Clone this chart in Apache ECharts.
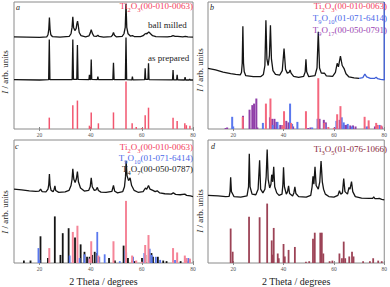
<!DOCTYPE html>
<html><head><meta charset="utf-8">
<script src="https://cdn.jsdelivr.net/npm/echarts@6/dist/echarts.min.js"></script>
<style>html,body{margin:0;padding:0;background:#fff}#c{width:390px;height:287px}</style>
</head><body><div id="c"></div>
<script>
// ---------- DATA (2 Theta in degrees, intensity in arb. units) ----------
const xTicks = [20, 40, 60, 80];

// reference stick patterns: [2theta, relative intensity]
const ti2o3Sticks = [[23.8,24],[33.0,50],[34.8,60],[39.5,7],[40.2,35],[43.0,12],[48.9,35],[53.8,100],[56.2,12],[57.8,4],[60.0,2],[61.3,29],[62.6,45],[72.2,24],[73.8,17],[76.8,12],[77.4,8],[78.8,7]];
const t9o10Sticks = [[19.6,24],[20.0,5],[31.8,12],[35.7,8],[37.6,14],[39.4,7],[42.6,50],[43.4,10],[45.5,14],[51.4,3],[53.6,20],[56.6,10],[61.0,16],[63.1,23],[63.9,13],[65.5,10],[67.2,5],[73.0,5],[78.2,8]];
const t9o17Sticks = [[17.0,2],[17.6,3],[23.9,26],[26.5,38],[27.6,47],[28.3,50],[29.2,60],[29.6,3],[34.6,23],[35.5,20],[36.4,20],[37.2,14],[38.7,8],[39.3,7],[41.1,16],[42.0,13],[43.8,5],[49.8,2],[50.7,3],[53.6,20],[54.3,20],[56.0,18],[56.8,13],[60.3,3],[62.3,18],[63.9,8],[64.8,8],[66.5,7],[67.6,7],[68.6,5],[73.7,5],[76.3,5],[79.0,5]];
const t4o7Sticks = [[13.9,4],[16.5,4],[20.4,43],[23.3,8],[26.0,75],[28.2,13],[29.1,48],[31.4,56],[33.9,41],[36.1,30],[37.6,18],[38.6,10],[39.6,10],[40.6,13],[41.6,18],[42.5,16],[43.3,8],[47.2,8],[49.5,4],[52.9,28],[53.9,17],[54.6,8],[56.3,4],[57.2,3],[60.1,8],[61.4,13],[63.8,16],[64.4,10],[66.3,10],[68.4,4],[69.7,3],[75.2,3],[77.5,3]];
const ti3o5Sticks = [[19.0,58],[19.8,19],[26.3,78],[30.5,77],[33.5,100],[35.3,38],[35.7,14],[36.1,59],[37.7,16],[38.1,8],[40.0,32],[40.5,11],[42.0,22],[44.5,27],[48.9,2],[50.2,3],[51.7,41],[52.4,51],[54.6,51],[55.2,51],[55.8,16],[58.3,3],[59.4,4],[62.2,16],[63.2,8],[63.9,36],[64.5,8],[66.1,11],[67.2,19],[67.8,11],[71.6,3],[74.3,3],[75.6,8],[77.6,4],[79.0,3]];

// measured patterns: [2theta, intensity (0 = panel bottom, 100 = panel top)]
const ballMilled = [[10,72.6],[15,72.4],[20,72.2],[22.8,72.6],[23.3,74.2],[23.6,78.5],[23.85,87.7],[24.1,78.5],[24.4,74.2],[25,72.8],[28,72.4],[31.6,73],[32.3,75],[32.7,80],[33.0,88.3],[33.3,80],[33.8,77.5],[34.3,79],[34.6,83],[34.85,84.9],[35.1,82],[35.5,76],[36.2,73.5],[38,72.6],[39.3,73.3],[39.8,75.5],[40.2,78.3],[40.6,75.5],[41.2,73.2],[42.3,73],[42.8,73.9],[43.3,72.9],[45,72.4],[48,72.7],[48.5,73.8],[48.9,76],[49.3,73.8],[50,72.6],[52.3,73],[53,75],[53.5,80],[53.8,98.7],[54.1,80],[54.6,75],[55.5,73.2],[56.3,73.6],[57,72.8],[59.5,72.8],[60.5,73.5],[61.2,74.8],[61.6,75.2],[62.0,75],[62.7,76.5],[63.4,75],[64.2,73.5],[65.5,72.8],[70,72.5],[71.5,72.9],[72.2,73.5],[73,73],[74,72.9],[76,72.6],[77,72.9],[78,72.5],[80,72.3]];
const asPrepared = [[10,38.8],[20,38.6],[23.55,38.8],[23.8,70.5],[24.05,38.8],[32.75,38.9],[33.0,70.5],[33.25,39],[34.55,39],[34.8,66.1],[35.05,39],[39.3,38.8],[39.5,42.6],[39.7,38.9],[40.0,39],[40.2,54.8],[40.4,39],[42.6,38.8],[42.8,41.3],[43.0,38.8],[48.65,38.8],[48.9,52.2],[49.15,38.8],[53.55,38.9],[53.8,72],[54.05,38.9],[56.1,38.7],[56.3,41.3],[56.5,38.7],[61.1,38.8],[61.3,47.8],[61.5,39],[62.4,39],[62.6,51.7],[62.8,38.9],[72.0,38.7],[72.2,46.5],[72.4,38.7],[73.6,38.7],[73.8,42.6],[74.0,38.7],[76.7,38.6],[76.9,40.8],[77.1,38.6],[78.5,38.6],[78.7,39.4],[78.9,38.6],[80,38.6]];
const patternB = [[10,47.8],[13,46.5],[16,44.8],[19,43.6],[21,43],[22.8,42.6],[23.3,44.5],[23.6,52],[23.85,80.9],[24.1,52],[24.4,45],[25,42],[28,41.2],[31,41.3],[32,43],[32.6,50],[33.0,85.6],[33.4,55],[33.9,50],[34.4,58],[34.8,81.7],[35.2,55],[35.8,46],[36.8,43],[38.5,42.5],[39.5,46],[40.2,63.4],[40.8,47],[41.5,44],[42.2,44.5],[42.6,46.5],[43,44],[44,41.5],[46,40.7],[48,41.5],[48.6,45],[48.9,54.8],[49.2,45],[50,41.2],[52.5,42],[53.3,48],[53.8,76.5],[54.3,48],[55,44],[56.3,43.9],[57,41.8],[59.5,41.5],[60.6,44.5],[61.3,51.7],[61.8,49],[62.6,57.4],[63.3,50],[64,47.8],[64.8,43.5],[66,41],[68,40.2],[70,39.8]];
const patternBTail = [[70,39.8],[71.5,40.5],[72.3,43.3],[73,41],[74.5,39.8],[76.2,39.9],[76.8,40.7],[77.4,39.6],[78.5,39],[80,38.6],[80,100]];
const patternC = [[10,60],[13,59.4],[16,58.7],[18.5,58.2],[19.8,58.5],[20.4,60],[21,58],[22.5,57.8],[23.3,60],[23.6,64],[23.85,72.3],[24.1,63],[24.5,59],[25.3,58],[25.7,60],[26.0,62.7],[26.3,59],[27.5,57.4],[30,57.8],[31.5,59],[32.3,63],[32.7,68],[33.0,76.5],[33.4,68],[33.9,65.5],[34.4,68.5],[34.8,74.4],[35.2,66],[36,61],[37.5,58.5],[39.2,59],[39.8,62],[40.2,69.2],[40.6,62],[41.4,59],[42.1,59.5],[42.6,61.5],[43.0,59],[44,57.6],[46,57.4],[48.3,58.3],[48.9,63],[49.4,58.3],[50.5,57],[52.5,58],[53.2,62],[53.6,70],[53.85,82.8],[54.2,71],[54.8,67],[55.4,69.2],[56,63],[57,59],[58.5,57.5],[60.5,58],[61.4,61],[61.9,60],[62.6,63],[63.2,60],[64.3,59],[65.2,58],[66,58.7],[67,57],[69,56.3],[71.5,56],[72.3,57],[73.2,55.8],[75,55.5],[76.8,56],[77.5,55],[79,54.5],[80,54]];
const patternD = [[10,55],[14,54.5],[17,54],[18.4,54.2],[18.75,58],[19.0,69.7],[19.3,58],[19.8,56.1],[20.3,54],[23,53.5],[25.5,54.5],[26.1,62],[26.4,88.8],[26.7,62],[27.5,56],[29,55.5],[29.9,60],[30.5,83.6],[30.9,60],[31.8,57],[32.6,60],[33.1,70],[33.5,92.2],[33.9,68],[34.5,61],[35.0,64],[35.3,71.8],[35.7,66],[36.1,78.3],[36.5,62],[37.3,57],[38.2,55],[39.4,56],[39.75,64],[40.0,77.8],[40.35,62],[41.1,56],[41.6,58],[42.0,62.7],[42.4,56.5],[43.6,54.5],[44.1,57],[44.5,61.9],[44.9,56.5],[46,54],[49,53.5],[50.8,55],[51.35,62],[51.7,70.5],[52.05,64],[52.5,78.3],[52.95,63],[53.8,60],[54.4,66],[54.9,82.8],[55.4,66],[55.9,60],[56.6,56],[58,54],[60,53.5],[61.6,55],[62.2,58.7],[62.7,56],[63.4,57],[63.9,68.7],[64.4,58],[65.4,56],[66.0,61.4],[66.4,60],[67.0,66.1],[67.5,58],[68.5,54],[71,52.8],[74,52.5],[75.4,52.6],[75.8,53.7],[76.3,52.4],[77.5,52.3],[78,52.6],[79,51.8],[80,51.4]];

// ---------- STYLE / LAYOUT ----------
const FONT = "'Liberation Serif','Times New Roman',serif";
const RED = '#f2566f', BLUE = '#5a78ee', PURPLE = '#8f3ea8', DARK = '#151515', MAROON = '#9c4356';
const grids = [
  {left:14, top:2, width:179, height:127},
  {left:208, top:2, width:179, height:127},
  {left:14, top:140, width:179, height:128},
  {left:208, top:140, width:179, height:128}
];
const stickMax = [268, 250, 198, 207];

const xAxis = [], yAxis = [];
grids.forEach((g, i) => {
  const common = {type:'value', gridIndex:i, min:10, max:80, splitLine:{show:false},
    axisLine:{show:false}, axisTick:{show:true, inside:true, length:2, customValues:xTicks, lineStyle:{color:'#888'}}};
  xAxis.push(Object.assign({}, common, {position:'bottom',
    axisLabel:{show:true, customValues:xTicks, fontSize:5.5, color:'#555', margin:3, fontFamily:FONT},
    name: i >= 2 ? '2 Theta / degrees' : '', nameLocation:'middle', nameGap:13,
    nameTextStyle:{fontSize:10, color:'#222', fontFamily:FONT}}));
  xAxis.push(Object.assign({}, common, {position:'top', axisLabel:{show:false}}));
  yAxis.push({type:'value', gridIndex:i, min:0, max:100, show:false});
  yAxis.push({type:'value', gridIndex:i, min:0, max:stickMax[i], show:false});
});

function sticks(i, data, color, w) {
  return {type:'bar', xAxisIndex:2*i, yAxisIndex:2*i+1, data:data, barWidth:w, barGap:'-100%',
    itemStyle:{color:color}, silent:true, animation:false};
}
function curve(i, data, color) {
  return {type:'line', xAxisIndex:2*i, yAxisIndex:2*i, data:data, showSymbol:false, symbol:'none',
    lineStyle:{color:color, width:1.3}, silent:true, animation:false, z:5};
}

const series = [
  sticks(0, ti2o3Sticks, RED, 1.5),
  curve(0, ballMilled, DARK), curve(0, asPrepared, DARK),
  sticks(1, t9o17Sticks, PURPLE, 2), sticks(1, t9o10Sticks, BLUE, 2), sticks(1, ti2o3Sticks, '#f4677e', 2),
  curve(1, patternB, DARK), curve(1, patternBTail, '#3f5fd8'),
  sticks(2, t4o7Sticks, DARK, 1.8), sticks(2, t9o10Sticks, BLUE, 1.8), sticks(2, ti2o3Sticks, '#f58598', 2),
  curve(2, patternC, DARK),
  sticks(3, ti3o5Sticks, MAROON, 1.8),
  curve(3, patternD, DARK)
];

function formula(parts, x, y, color) {
  const txt = parts.map(p => (p[1] ? '{s|' : '{n|') + p[0] + '}').join('');
  return {type:'text', x:x, y:y, silent:true, z:10,
    style:{text:txt, align:'right', verticalAlign:'middle', fill:color, fontFamily:FONT,
      rich:{n:{fontSize:9, lineHeight:12, verticalAlign:'top', fontFamily:FONT, fill:color},
            s:{fontSize:6.5, lineHeight:7, verticalAlign:'bottom', fontFamily:FONT, fill:color}}}};
}
function plain(t, x, y, opts) {
  return {type:'text', x:x, y:y, silent:true, z:10,
    style:Object.assign({text:t, fontFamily:FONT, fontSize:9, fill:'#222', align:'left', verticalAlign:'middle'}, opts||{})};
}
function yName(x, y) {
  return {type:'text', x:x, y:y, rotation:Math.PI/2, silent:true, z:10,
    style:{text:'{i|I}{n| / arb. units}', align:'center', verticalAlign:'middle', fill:'#222',
      rich:{i:{fontSize:9, fontStyle:'italic', fontFamily:FONT, fill:'#222'}, n:{fontSize:9, fontFamily:FONT, fill:'#222'}}}};
}
const T = (s) => [s, false], S = (s) => [s, true];
const graphic = [
  plain('a', 16, 7, {fontStyle:'italic', fontSize:8}),
  plain('b', 210, 7, {fontStyle:'italic', fontSize:8}),
  plain('c', 15, 146, {fontStyle:'italic', fontSize:8}),
  plain('d', 211, 146, {fontStyle:'italic', fontSize:8}),
  plain('ball milled', 148, 25),
  plain('as prepared', 148, 58),
  formula([T('Ti'),S('2'),T('O'),S('3'),T('(00-010-0063)')], 193, 7, '#f23c5c'),
  formula([T('Ti'),S('2'),T('O'),S('3'),T('(00-010-0063)')], 387, 7, '#f23c5c'),
  formula([T('T'),S('9'),T('O'),S('10'),T('(01-071-6414)')], 387, 19, '#4a68e8'),
  formula([T('T'),S('9'),T('O'),S('17'),T('(00-050-0791)')], 387, 31, '#9a3fb2'),
  formula([T('Ti'),S('2'),T('O'),S('3'),T('(00-010-0063)')], 193, 148, '#f23c5c'),
  formula([T('T'),S('9'),T('O'),S('10'),T('(01-071-6414)')], 193, 159, '#4a68e8'),
  formula([T('T'),S('4'),T('O'),S('7'),T('(00-050-0787)')], 193, 170, '#222'),
  formula([T('Ti'),S('3'),T('O'),S('5'),T('(01-076-1066)')], 387, 150, '#8a2a40'),
  yName(5, 72), yName(200, 70), yName(5, 212), yName(200, 211)
];

const chart = echarts.init(document.getElementById('c'), null, {renderer:'svg'});
chart.setOption({
  animation:false,
  backgroundColor:'#fff',
  grid: grids.map(g => Object.assign({show:true, borderColor:'#8a8a8a', borderWidth:1, backgroundColor:'transparent', containLabel:false}, g)),
  xAxis, yAxis, series, graphic
});
</script></body></html>
